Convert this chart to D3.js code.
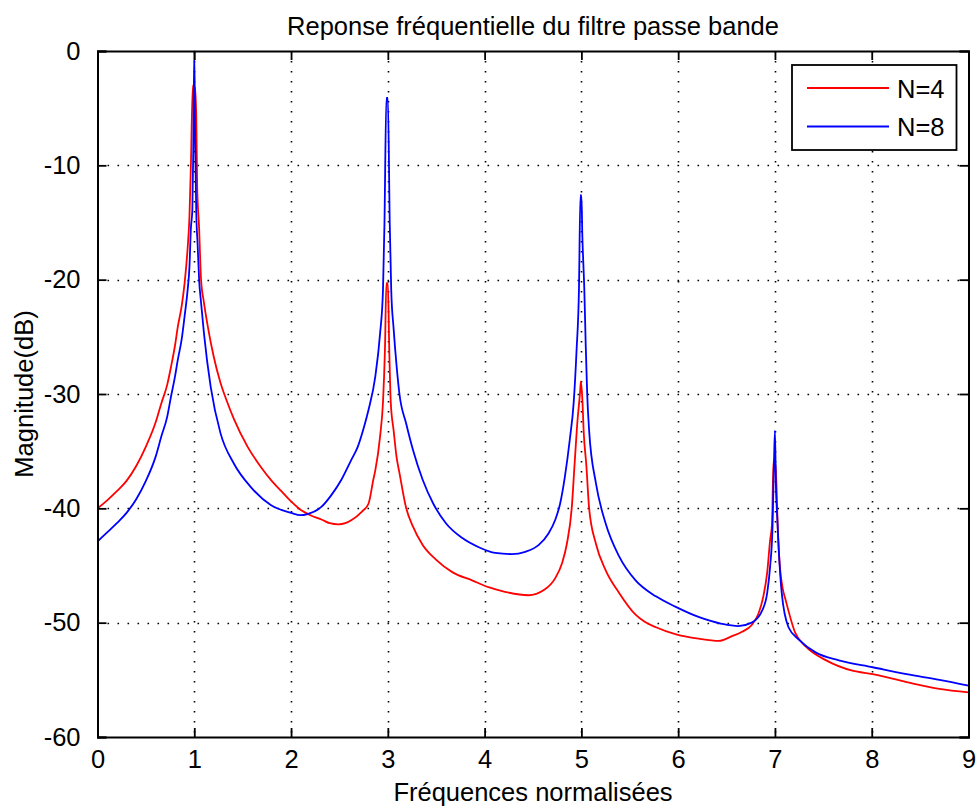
<!DOCTYPE html>
<html>
<head>
<meta charset="utf-8">
<script src="https://cdn.jsdelivr.net/npm/d3@7"></script>
<style>
  html, body { margin: 0; padding: 0; background: #ffffff; }
  svg { display: block; }
  text { font-family: "Liberation Sans", Arial, sans-serif; fill: #000; }
</style>
</head>
<body>
<script>
// ---------------- DATA ----------------
const chartTitle = "Reponse fréquentielle du filtre passe bande";
const xLabel = "Fréquences normalisées";
const yLabel = "Magnitude(dB)";
const xTicks = [0, 1, 2, 3, 4, 5, 6, 7, 8, 9];
const yTicks = [0, -10, -20, -30, -40, -50, -60];
const seriesNames = ["N=4", "N=8"];

const freqN4 = [0.00,0.10,0.20,0.30,0.40,0.50,0.60,0.66,0.72,0.76,0.80,0.83,0.87,0.90,0.93,0.95,0.965,0.985,1.005,1.02,1.03,1.05,1.07,1.10,1.14,1.20,1.27,1.34,1.41,1.55,1.69,1.80,1.90,2.00,2.11,2.20,2.32,2.40,2.49,2.56,2.63,2.73,2.80,2.85,2.87,2.92,2.95,2.97,2.985,3.00,3.015,3.03,3.06,3.09,3.12,3.19,3.26,3.36,3.50,3.67,3.87,4.04,4.21,4.45,4.62,4.73,4.80,4.85,4.90,4.93,4.96,4.985,4.995,5.01,5.025,5.05,5.08,5.15,5.25,5.39,5.56,5.65,5.77,5.97,6.21,6.42,6.55,6.66,6.76,6.83,6.88,6.92,6.95,6.97,6.985,7.005,7.015,7.03,7.05,7.08,7.11,7.21,7.32,7.53,7.80,8.01,8.36,8.70,9.00];
const magN4 = [-40.0,-39.3,-38.5,-37.6,-36.3,-34.6,-32.5,-30.8,-29.2,-27.6,-25.8,-24.1,-22.3,-20.3,-17.4,-14.5,-10.0,-3.0,-3.2,-5.5,-11.8,-15.5,-20.0,-22.0,-24.1,-26.7,-29.0,-30.7,-32.2,-34.6,-36.4,-37.6,-38.5,-39.4,-40.2,-40.6,-41.0,-41.3,-41.4,-41.3,-41.0,-40.3,-39.6,-37.5,-36.7,-33.7,-30.7,-26.2,-20.3,-20.3,-26.2,-30.7,-33.2,-35.5,-36.9,-40.0,-41.6,-43.2,-44.5,-45.6,-46.3,-46.9,-47.3,-47.6,-47.1,-46.1,-44.8,-43.1,-40.0,-36.1,-32.3,-30.0,-28.9,-30.5,-33.5,-36.1,-40.0,-43.1,-45.4,-47.4,-49.3,-49.9,-50.4,-51.0,-51.4,-51.6,-51.2,-50.8,-50.2,-49.2,-47.7,-45.6,-42.8,-41.3,-35.8,-36.2,-37.8,-42.0,-45.0,-47.0,-48.0,-50.9,-52.1,-53.3,-54.2,-54.5,-55.2,-55.8,-56.1];

const freqN8 = [0.00,0.10,0.20,0.30,0.40,0.50,0.60,0.66,0.72,0.76,0.80,0.83,0.87,0.90,0.93,0.95,0.965,0.98,0.99,1.00,1.01,1.02,1.035,1.05,1.07,1.10,1.17,1.27,1.41,1.58,1.79,2.00,2.10,2.17,2.31,2.42,2.52,2.62,2.69,2.75,2.80,2.87,2.92,2.95,2.965,2.985,3.00,3.02,3.035,3.06,3.09,3.12,3.19,3.26,3.36,3.47,3.60,3.77,3.94,4.11,4.28,4.42,4.56,4.66,4.73,4.78,4.83,4.88,4.92,4.95,4.975,4.99,5.00,5.01,5.03,5.045,5.06,5.08,5.15,5.25,5.39,5.56,5.77,5.97,6.21,6.45,6.62,6.76,6.87,6.92,6.95,6.975,6.99,7.00,7.01,7.025,7.04,7.07,7.14,7.25,7.42,7.66,8.01,8.36,8.70,9.00];
const magN8 = [-42.9,-42.1,-41.3,-40.4,-39.2,-37.6,-35.5,-33.7,-32.0,-30.2,-28.5,-27.0,-25.2,-23.2,-21.0,-18.9,-15.5,-13.9,-8.4,0.0,-8.4,-13.9,-17.0,-20.0,-22.0,-24.7,-29.4,-33.4,-36.1,-38.1,-39.7,-40.4,-40.6,-40.5,-39.9,-38.8,-37.5,-35.8,-34.6,-33.0,-31.4,-28.5,-24.7,-20.9,-15.2,-4.1,-4.1,-15.2,-20.9,-24.3,-27.5,-30.0,-32.6,-34.9,-37.5,-39.6,-41.3,-42.6,-43.4,-43.9,-44.0,-43.8,-43.2,-42.2,-41.0,-39.6,-37.2,-34.0,-30.8,-26.2,-20.8,-12.6,-12.6,-16.2,-20.8,-25.8,-30.0,-33.2,-37.8,-41.3,-44.2,-46.3,-47.7,-48.6,-49.5,-50.1,-50.3,-50.0,-48.9,-47.4,-45.1,-41.6,-36.0,-33.2,-38.0,-41.0,-43.7,-47.4,-50.4,-51.5,-52.6,-53.3,-53.9,-54.5,-55.0,-55.5];

const seriesColors = ["#ff0000", "#0000ff"];

// ---------------- LAYOUT ----------------
const W = 978, H = 807;
const margin = { left: 97.5, right: W - 968.5, top: 51, bottom: H - 737 };
const fontSize = 25.5;

const svg = d3.select("body").append("svg").attr("width", W).attr("height", H);

const x = d3.scaleLinear().domain([0, 9]).range([margin.left, W - margin.right]);
const y = d3.scaleLinear().domain([-60, 0]).range([H - margin.bottom, margin.top]);

// grid
const grid = svg.append("g");
grid.selectAll(".vg").data(xTicks.slice(1, -1)).enter().append("line")
  .attr("x1", d => Math.round(x(d)) + 0.5).attr("x2", d => Math.round(x(d)) + 0.5)
  .attr("y1", y(0)).attr("y2", y(-60))
  .attr("stroke", "#000").attr("stroke-width", 1.6).attr("stroke-dasharray", "1.6,8.4");
grid.selectAll(".hg").data(yTicks.slice(1, -1)).enter().append("line")
  .attr("y1", d => Math.round(y(d)) + 0.5).attr("y2", d => Math.round(y(d)) + 0.5)
  .attr("x1", x(0)).attr("x2", x(9))
  .attr("stroke", "#000").attr("stroke-width", 1.6).attr("stroke-dasharray", "1.6,8.4");

// clip
svg.append("clipPath").attr("id", "plotclip").append("rect")
  .attr("x", x(0)).attr("y", y(0) - 1).attr("width", x(9) - x(0)).attr("height", y(-60) - y(0) + 2);

const line = d3.line().x(d => x(d[0])).y(d => y(d[1])).curve(d3.curveMonotoneX);
const series = [
  d3.zip(freqN4, magN4),
  d3.zip(freqN8, magN8)
];
const plot = svg.append("g").attr("clip-path", "url(#plotclip)");
series.forEach((s, i) => {
  plot.append("path").datum(s).attr("d", line)
    .attr("fill", "none").attr("stroke", seriesColors[i]).attr("stroke-width", 1.8)
    .attr("stroke-linejoin", "miter");
});

// axes (MATLAB style box with inward ticks)
const tickLen = 9;
const fmt = d => String(d);
const axB = d3.axisBottom(x).tickValues(xTicks).tickSize(-tickLen).tickPadding(tickLen + 4).tickFormat(fmt);
const axT = d3.axisTop(x).tickValues(xTicks).tickSize(-tickLen).tickFormat("");
const axL = d3.axisLeft(y).tickValues(yTicks).tickSize(-tickLen).tickPadding(tickLen + 8).tickFormat(fmt);
const axR = d3.axisRight(y).tickValues(yTicks).tickSize(-tickLen).tickFormat("");

function styleAxis(g) {
  g.select(".domain").attr("stroke", "#000").attr("stroke-width", 2);
  g.selectAll(".tick line").attr("stroke", "#000").attr("stroke-width", 1.8);
  g.selectAll(".tick text").attr("font-size", fontSize).attr("font-family", "Liberation Sans, Arial, sans-serif").attr("fill", "#000");
}
svg.append("g").attr("transform", `translate(0,${y(-60)})`).call(axB).call(styleAxis);
svg.append("g").attr("transform", `translate(0,${y(0)})`).call(axT).call(styleAxis);
svg.append("g").attr("transform", `translate(${x(0)},0)`).call(axL).call(styleAxis);
svg.append("g").attr("transform", `translate(${x(9)},0)`).call(axR).call(styleAxis);

// title and labels
svg.append("text").attr("x", (x(0) + x(9)) / 2).attr("y", 35).attr("text-anchor", "middle")
  .attr("font-size", fontSize).text(chartTitle);
svg.append("text").attr("x", (x(0) + x(9)) / 2).attr("y", 801).attr("text-anchor", "middle")
  .attr("font-size", fontSize).text(xLabel);
svg.append("text").attr("transform", `translate(33,${(y(0) + y(-60)) / 2}) rotate(-90)`).attr("text-anchor", "middle")
  .attr("font-size", fontSize).text(yLabel);

// legend
const lg = svg.append("g");
lg.append("rect").attr("x", 792).attr("y", 65).attr("width", 164.5).attr("height", 85)
  .attr("fill", "#fff").attr("stroke", "#000").attr("stroke-width", 1.8);
seriesNames.forEach((name, i) => {
  const ly = 88 + i * 38.5;
  lg.append("line").attr("x1", 807).attr("x2", 889).attr("y1", ly).attr("y2", ly)
    .attr("stroke", seriesColors[i]).attr("stroke-width", 1.8);
  lg.append("text").attr("x", 897).attr("y", ly + 9.5).attr("font-size", fontSize).text(name);
});
</script>
</body>
</html>
